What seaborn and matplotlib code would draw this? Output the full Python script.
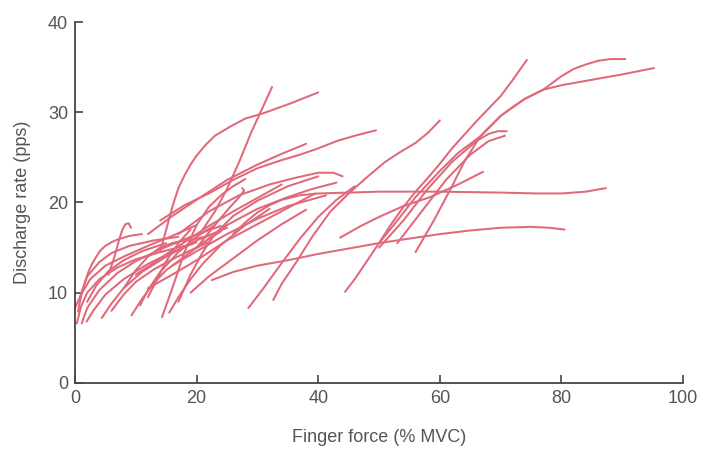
import matplotlib
matplotlib.use("Agg")
import matplotlib.pyplot as plt
import seaborn as sns
import pandas as pd

# ---- data: each motor unit = (finger force %MVC, discharge rate pps) ----
u01_force = [44.4, 46, 48, 50, 52, 54, 56, 58, 60, 62, 64, 66, 68, 70, 72, 74.3]
u01_rate = [10.1, 11.5, 13.5, 15.5, 17.6, 19.5, 21.2, 22.7, 24.3, 26, 27.5, 29, 30.4, 31.8, 33.6, 35.8]
u02_force = [43.6, 47, 50, 54, 58.4, 63, 67.1]
u02_rate = [16.1, 17.4, 18.4, 19.6, 20.6, 22, 23.4]
u03_force = [22.5, 26, 30, 35, 40, 45, 50, 55, 60, 65, 70, 75, 78, 80.5]
u03_rate = [11.4, 12.3, 13.0, 13.6, 14.3, 14.9, 15.5, 16.0, 16.5, 16.9, 17.2, 17.3, 17.2, 17.0]
u04_force = [26, 28, 30, 32, 34, 37, 40, 45, 50, 60, 70, 76, 80, 84, 87.3]
u04_rate = [16.5, 17.8, 18.9, 19.7, 20.3, 20.8, 21.0, 21.1, 21.2, 21.2, 21.1, 21.0, 21.0, 21.2, 21.6]
u05_force = [32.6, 34, 36.5, 39, 42, 45, 48, 51, 53.5, 56, 58, 60]
u05_rate = [9.2, 11, 13.5, 16.2, 19, 21, 22.8, 24.5, 25.6, 26.6, 27.7, 29.1]
u06_force = [50, 53, 56, 60, 63, 66.6, 70, 72, 74, 77, 80, 82, 84, 86, 88, 90.5]
u06_rate = [15.5, 18, 20.6, 23.5, 25.5, 27.3, 29.6, 30.6, 31.5, 32.5, 34, 34.8, 35.3, 35.7, 35.9, 35.9]
u07_force = [56, 59, 62, 64, 66.6, 70, 74, 77, 80, 85, 90, 95.2]
u07_rate = [14.5, 18, 21.8, 24.5, 27.3, 29.6, 31.5, 32.5, 33.0, 33.6, 34.2, 34.9]
u08_force = [50, 54, 58, 62, 66, 68, 69.5, 71]
u08_rate = [15, 18, 21.5, 24.5, 26.8, 27.6, 27.9, 27.9]
u09_force = [53, 57, 61, 65, 68, 70.7]
u09_rate = [15.5, 19, 22.5, 25.3, 26.8, 27.4]
u10_force = [14, 18, 22, 26, 30, 34, 37, 40, 43, 46, 49.5]
u10_rate = [18, 19.7, 21, 22.5, 23.8, 24.7, 25.3, 26, 26.8, 27.4, 28.0]
u11_force = [21, 23, 25, 27, 29, 30.5, 32.4]
u11_rate = [17, 19, 21.5, 24.5, 27.8, 30, 32.8]
u12_force = [14, 15, 16, 17, 18, 19, 20, 21.5, 23, 25.5, 28, 31, 35.5, 40]
u12_rate = [14.5, 17, 19.5, 21.6, 23, 24.2, 25.2, 26.4, 27.4, 28.4, 29.3, 29.9, 31, 32.2]
u13_force = [12, 16, 20, 25, 30, 34, 38]
u13_rate = [16.5, 18.5, 20.3, 22.5, 24.2, 25.4, 26.5]
u14_force = [17, 22, 27, 32, 36, 40, 42.5, 44]
u14_rate = [16.5, 19, 20.8, 22, 22.7, 23.3, 23.3, 22.9]
u15_force = [20, 25, 30, 35, 39, 43]
u15_rate = [15, 17.5, 19.3, 20.6, 21.5, 22.2]
u16_force = [16, 20, 25, 30, 35, 41.3]
u16_rate = [13, 14.6, 16.5, 18.2, 19.6, 20.8]
u17_force = [28.5, 31, 34, 37, 40, 43, 46]
u17_rate = [8.3, 10.5, 13.3, 16, 18.4, 20.3, 21.8]
u18_force = [14.3, 16, 18, 20, 22, 24, 26, 28]
u18_rate = [7.3, 10.5, 14.5, 17.5, 19.5, 20.8, 21.8, 22.6]
u19_force = [20, 23, 25.5, 27, 27.8, 27.5]
u19_rate = [15, 17.5, 19.5, 20.6, 21.3, 21.6]
u20_force = [10, 14, 18, 22, 26, 30, 34]
u20_rate = [12, 13.8, 15.6, 17.4, 19, 20.5, 22]
u21_force = [12, 16, 20, 25, 30, 35, 39.5]
u21_rate = [10.5, 12, 13.6, 15.8, 17.6, 19.4, 21.0]
u22_force = [17, 19, 21, 23, 26, 30, 35, 40]
u22_rate = [9, 12, 14.5, 16.5, 18.5, 20.2, 21.8, 22.9]
u23_force = [9.3, 11, 13, 15, 18, 21, 24]
u23_rate = [7.5, 9.3, 11.1, 12.5, 14, 15.5, 16.8]
u24_force = [10.7, 12, 14, 17, 20, 23]
u24_rate = [8.6, 10.3, 12.3, 14.5, 16.2, 17.5]
u25_force = [15.5, 17, 19, 21, 24, 28, 32]
u25_rate = [7.8, 9.5, 11.5, 13.2, 15.3, 17.5, 19.3]
u26_force = [0.5, 0.8, 1.2, 1.7, 2.2, 2.8, 3.5, 4.2, 5, 6, 7, 9, 11]
u26_rate = [7.9, 9.0, 10.2, 11.3, 12.3, 13.2, 14, 14.7, 15.2, 15.6, 15.9, 16.3, 16.5]
u27_force = [5.5, 6.5, 7.3, 7.8, 8.3, 8.8, 9.2]
u27_rate = [12, 14, 16, 17.0, 17.6, 17.7, 17.2]
u28_force = [0.3, 1, 2, 4, 7, 10, 14, 18]
u28_rate = [6.6, 8.5, 10, 11.5, 12.8, 13.7, 14.5, 15.2]
u29_force = [1.1, 2, 4, 7, 10, 14, 19, 24]
u29_rate = [6.6, 8.3, 10.3, 12.2, 13.5, 14.8, 16.2, 17.4]
u30_force = [1.9, 3, 5, 8, 12, 16, 20]
u30_rate = [6.8, 8, 9.8, 11.5, 13.2, 14.5, 15.6]
u31_force = [4.4, 6, 8, 11, 15, 20, 25]
u31_rate = [7.2, 8.8, 10.5, 12.3, 14, 15.8, 17.2]
u32_force = [0, 1, 2.5, 5, 8, 12, 16, 20]
u32_rate = [8.3, 9.8, 11.5, 13, 14, 15.2, 16.3, 17.5]
u33_force = [0.8, 2, 4, 6, 9, 13, 17]
u33_rate = [9.5, 11.8, 13.4, 14.4, 15.2, 15.8, 16.2]
u34_force = [2, 3.5, 5.5, 8, 11, 15]
u34_rate = [9, 10.8, 12.4, 13.6, 14.6, 15.5]
u35_force = [6, 8, 10, 13, 16, 19, 22]
u35_rate = [8, 9.8, 11.2, 12.6, 13.7, 14.7, 15.6]
u36_force = [19, 22, 26, 30, 34, 38]
u36_rate = [10, 11.8, 13.8, 15.8, 17.6, 19.2]
u37_force = [8, 10, 12, 14, 16, 18, 20, 22]
u37_rate = [10.5, 12.5, 14, 15, 15.5, 15.8, 16, 16.3]
u38_force = [12, 13.5, 15, 17, 19]
u38_rate = [9.5, 11.5, 13.5, 15.5, 17]

x_ticks = [0, 20, 40, 60, 80, 100]
y_ticks = [0, 10, 20, 30, 40]
x_label = "Finger force (% MVC)"
y_label = "Discharge rate (pps)"

units = [
    (u01_force, u01_rate), (u02_force, u02_rate), (u03_force, u03_rate),
    (u04_force, u04_rate), (u05_force, u05_rate), (u06_force, u06_rate),
    (u07_force, u07_rate), (u08_force, u08_rate), (u09_force, u09_rate),
    (u10_force, u10_rate), (u11_force, u11_rate), (u12_force, u12_rate),
    (u13_force, u13_rate), (u14_force, u14_rate), (u15_force, u15_rate),
    (u16_force, u16_rate), (u17_force, u17_rate), (u18_force, u18_rate),
    (u19_force, u19_rate), (u20_force, u20_rate), (u21_force, u21_rate),
    (u22_force, u22_rate), (u23_force, u23_rate), (u24_force, u24_rate),
    (u25_force, u25_rate), (u26_force, u26_rate), (u27_force, u27_rate),
    (u28_force, u28_rate), (u29_force, u29_rate), (u30_force, u30_rate),
    (u31_force, u31_rate), (u32_force, u32_rate), (u33_force, u33_rate),
    (u34_force, u34_rate), (u35_force, u35_rate), (u36_force, u36_rate),
    (u37_force, u37_rate), (u38_force, u38_rate),
]

rows = []
for i, (fx, ry) in enumerate(units):
    for k, (a, b) in enumerate(zip(fx, ry)):
        rows.append({"unit": i, "order": k, "force": a, "rate": b})
df = pd.DataFrame(rows)

sns.set_theme(style="ticks")
plt.rcParams["font.family"] = ["Liberation Sans", "DejaVu Sans"]

fig = plt.figure(figsize=(7.03, 4.5), dpi=100)
ax = fig.add_axes([0.1067, 0.149, 0.865, 0.802])

line_color = "#e0687a"
sns.lineplot(data=df, x="force", y="rate", units="unit", estimator=None,
             sort=False, color=line_color, linewidth=1.45, ax=ax,
             solid_capstyle="round", solid_joinstyle="round")

ax.set_xlim(0, 100)
ax.set_ylim(0, 40)
ax.set_xticks(x_ticks)
ax.set_yticks(y_ticks)
ax.tick_params(direction="in", length=6, width=1.2, color="#444444",
               labelsize=13, labelcolor="#555555", pad=5)
ax.set_xlabel(x_label, fontsize=13, color="#555555", labelpad=16)
ax.set_ylabel(y_label, fontsize=13, color="#555555", labelpad=12)
for s in ["top", "right"]:
    ax.spines[s].set_visible(False)
for s in ["left", "bottom"]:
    ax.spines[s].set_color("#444444")
    ax.spines[s].set_linewidth(1.3)

fig.savefig("out.png", dpi=100)
